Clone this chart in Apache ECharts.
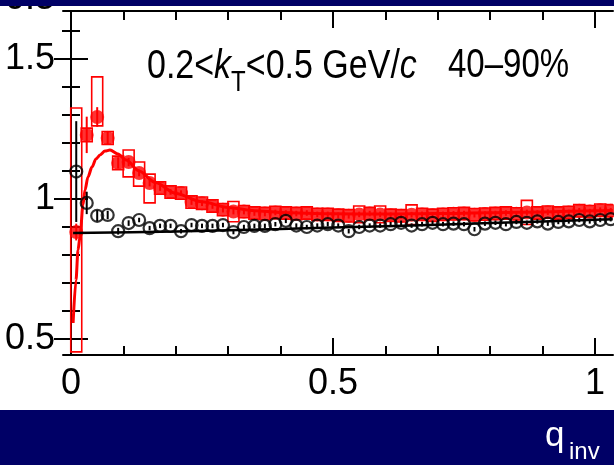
<!DOCTYPE html>
<html>
<head>
<meta charset="utf-8">
<script src="https://cdn.jsdelivr.net/npm/echarts@6/dist/echarts.min.js"></script>
<style>
html,body{margin:0;padding:0;background:#fff;}
#c{width:614px;height:465px;}
</style>
</head>
<body>
<div id="c"></div>
<script>
// ---- data ----
const qBins = [0.01,0.03,0.05,0.07,0.09,0.11,0.13,0.15,0.17,0.19,0.21,0.23,0.25,0.27,0.29,0.31,0.33,0.35,0.37,0.39,0.41,0.43,0.45,0.47,0.49,0.51,0.53,0.55,0.57,0.59,0.61,0.63,0.65,0.67,0.69,0.71,0.73,0.75,0.77,0.79,0.81,0.83,0.85,0.87,0.89,0.91,0.93,0.95,0.97,0.99,1.01,1.03];

const redY = [0.882,1.229,1.293,1.218,1.129,1.132,1.093,1.057,1.039,1.025,1.021,0.989,0.985,0.975,0.962,0.955,0.955,0.950,0.948,0.952,0.950,0.948,0.950,0.945,0.945,0.942,0.940,0.945,0.948,0.945,0.942,0.940,0.944,0.945,0.942,0.945,0.947,0.948,0.944,0.946,0.948,0.950,0.947,0.952,0.950,0.953,0.950,0.952,0.958,0.955,0.960,0.958];
const redErr = [0.03,0.065,0.035,0.025,0.02,0.015,0.012,0.012,0.01,0.01,0.01,0.01,0.01,0.01,0.01,0.01,0.01,0.01,0.01,0.01,0.01,0.01,0.01,0.01,0.01,0.01,0.01,0.01,0.01,0.01,0.01,0.01,0.01,0.01,0.01,0.01,0.01,0.01,0.01,0.01,0.01,0.01,0.01,0.01,0.01,0.01,0.01,0.01,0.01,0.01,0.01,0.01];
const redBoxLo = [0.454,1.205,1.261,1.195,1.105,1.079,1.046,0.986,1.017,1.003,0.999,0.967,0.963,0.953,0.940,0.919,0.933,0.928,0.926,0.930,0.928,0.926,0.928,0.923,0.923,0.920,0.918,0.915,0.926,0.915,0.920,0.918,0.909,0.923,0.920,0.923,0.925,0.926,0.922,0.924,0.926,0.928,0.925,0.909,0.928,0.931,0.928,0.930,0.936,0.933,0.938,0.936];
const redBoxHi = [1.325,1.253,1.436,1.241,1.153,1.175,1.132,1.089,1.061,1.047,1.043,1.011,1.007,0.997,0.984,0.991,0.977,0.972,0.970,0.974,0.972,0.970,0.972,0.967,0.967,0.964,0.962,0.975,0.970,0.975,0.964,0.962,0.979,0.967,0.964,0.967,0.969,0.970,0.966,0.968,0.970,0.972,0.969,0.995,0.972,0.975,0.972,0.974,0.980,0.977,0.982,0.980];

const blackY = [1.098,0.986,0.940,0.943,0.885,0.914,0.925,0.896,0.904,0.904,0.885,0.907,0.904,0.904,0.907,0.882,0.900,0.904,0.904,0.910,0.922,0.905,0.900,0.905,0.910,0.905,0.885,0.900,0.905,0.905,0.910,0.915,0.905,0.910,0.915,0.910,0.912,0.910,0.892,0.912,0.915,0.910,0.918,0.915,0.920,0.912,0.918,0.920,0.925,0.920,0.925,0.928];
const blackErr = [0.18,0.04,0.02,0.015,0.012,0.01,0.008,0.008,0.008,0.008,0.008,0.008,0.008,0.008,0.008,0.008,0.008,0.008,0.008,0.008,0.008,0.008,0.008,0.008,0.008,0.008,0.008,0.008,0.008,0.008,0.008,0.008,0.008,0.008,0.008,0.008,0.008,0.008,0.008,0.008,0.008,0.008,0.008,0.008,0.008,0.008,0.008,0.008,0.008,0.008,0.008,0.008];

// fit curves
const redFitX = [0.004,0.0095,0.0134,0.0172,0.0229,0.0267,0.0324,0.040,0.0477,0.0553,0.0649,0.0744,0.0897,0.105,0.13,0.16,0.20,0.25,0.30,0.35,0.40,0.50,0.60,0.70,0.80,0.90,1.00,1.034];
const redFitY = [0.557,0.710,0.818,0.864,0.979,1.032,1.079,1.114,1.143,1.157,1.171,1.175,1.161,1.139,1.100,1.060,1.020,0.990,0.970,0.958,0.952,0.947,0.946,0.948,0.951,0.954,0.958,0.959];
const blackFitX = [0.004,0.2,0.4,0.6,0.8,1.0,1.034];
const blackFitY = [0.879,0.884,0.893,0.903,0.914,0.926,0.928];

// axis ticks
const xMajor = [0,0.5,1];
const xMinor = [0.1,0.2,0.3,0.4,0.6,0.7,0.8,0.9];
const yMajor = [0.5,1,1.5];
const yMinor = [0.6,0.7,0.8,0.9,1.1,1.2,1.3,1.4,1.6];
const xMin = -0.01527, xMax = 1.0344;
const yMin = 0.4429, yMax = 1.6714;

const F = "'Liberation Sans',Arial,Helvetica,sans-serif";
const AX = {color:'#000', width:2};

function xAx(pos, vals, len, withLine, withLabel){
  return {type:'value', position:pos, min:xMin, max:xMax,
    axisLine:{show:withLine, lineStyle:AX},
    axisTick:{show:true, inside:true, length:len, customValues:vals, lineStyle:AX},
    axisLabel: withLabel ? {show:true, customValues:vals, color:'#000', fontFamily:F, fontSize:36, margin:11} : {show:false},
    splitLine:{show:false}};
}
function yAx(pos, vals, len, withLine, withLabel){
  return {type:'value', position:pos, min:yMin, max:yMax,
    axisLine:{show:withLine, lineStyle:AX},
    axisTick:{show:true, inside:true, length:len, customValues:vals, lineStyle:AX},
    axisLabel: withLabel ? {show:true, customValues:vals, color:'#000', fontFamily:F, fontSize:36, margin:8} : {show:false},
    splitLine:{show:false}};
}

function boxItem(params, api){
  const x = api.value(0), lo = api.value(1), hi = api.value(2);
  const p1 = api.coord([x-0.0105, hi]), p2 = api.coord([x+0.0105, lo]);
  return {type:'rect', shape:{x:p1[0], y:p1[1], width:p2[0]-p1[0], height:p2[1]-p1[1]},
    style:{fill:'none', stroke:'#ff0000', lineWidth:1.6}};
}
function errItem(color){
  return function(params, api){
    const x = api.value(0), y = api.value(1), e = api.value(2);
    const a = api.coord([x, y-e]), b = api.coord([x, y+e]);
    return {type:'line', shape:{x1:a[0], y1:a[1], x2:b[0], y2:b[1]}, style:{stroke:color, lineWidth:2}};
  };
}

const chart = echarts.init(document.getElementById('c'), null, {renderer:'canvas'});
chart.setOption({
  animation:false,
  backgroundColor:'#fff',
  grid:{left:63, right:1, top:11, bottom:110},
  xAxis:[xAx('bottom', xMajor, 17, true, true), xAx('bottom', xMinor, 9, false, false),
         xAx('top', xMajor, 17, true, false), xAx('top', xMinor, 9, false, false)],
  yAxis:[yAx('left', yMajor, 17, true, true), yAx('left', yMinor, 9, false, false),
         yAx('right', yMajor, 17, true, false), yAx('right', yMinor, 9, false, false)],
  series:[
    {type:'custom', name:'redSys', clip:true, renderItem:boxItem,
     data:qBins.map((x,i)=>[x, redBoxLo[i], redBoxHi[i]]), z:2},
    {type:'line', name:'redFit', data:redFitX.map((x,i)=>[x, redFitY[i]]), showSymbol:false,
     smooth:0.3, smoothMonotone:'x', lineStyle:{color:'#ff0000', width:3}, z:3},
    {type:'custom', name:'redErr', clip:true, renderItem:errItem('#ff0000'),
     data:qBins.map((x,i)=>[x, redY[i], redErr[i]]), z:4},
    {type:'scatter', name:'red', data:qBins.map((x,i)=>[x, redY[i]]), symbol:'circle', symbolSize:14,
     itemStyle:{color:'#ff0000'}, z:5},
    {type:'line', name:'blackFit', data:blackFitX.map((x,i)=>[x, blackFitY[i]]), showSymbol:false,
     smooth:0.3, lineStyle:{color:'#000', width:2.5}, z:6},
    {type:'custom', name:'blackErr', clip:true, renderItem:errItem('#000'),
     data:qBins.map((x,i)=>[x, blackY[i], blackErr[i]]), z:7},
    {type:'scatter', name:'black', data:qBins.map((x,i)=>[x, blackY[i]]), symbol:'circle', symbolSize:12,
     itemStyle:{color:'rgba(0,0,0,0)', borderColor:'#000', borderWidth:2.2}, z:8}
  ],
  graphic:[
    {type:'text', x:147, y:46, scaleY:1.22, z:50, style:{
      text:'{n|0.2<}{i|k}{s|T}{n|<0.5 GeV/}{i|c}', verticalAlign:'top', align:'left',
      rich:{
        n:{fontFamily:F, fontSize:34, lineHeight:34, verticalAlign:'top', fill:'#000'},
        i:{fontFamily:F, fontSize:34, fontStyle:'italic', lineHeight:34, verticalAlign:'top', fill:'#000'},
        s:{fontFamily:F, fontSize:24, lineHeight:60, fill:'#000'}
      }}},
    {type:'text', x:448, y:46, scaleY:1.22, z:50, style:{
      text:'{n|40–90%}', verticalAlign:'top', align:'left',
      rich:{ n:{fontFamily:F, fontSize:33, lineHeight:34, verticalAlign:'top', fill:'#000'} }}},
    {type:'text', x:55, y:-19, z:40, style:{text:'0.5', fontFamily:F, fontSize:36, fill:'#000', align:'right', verticalAlign:'top'}},
    {type:'rect', x:0, y:0, z:100, shape:{width:614, height:6}, style:{fill:'#000066'}},
    {type:'rect', x:0, y:410, z:100, shape:{width:614, height:55}, style:{fill:'#000066'}},
    {type:'text', x:545, y:419, z:110, style:{
      text:'{q|q}', verticalAlign:'top', align:'left',
      rich:{ q:{fontFamily:F, fontSize:35, lineHeight:40, verticalAlign:'top', fill:'#fff'} }}},
    {type:'text', x:569, y:410, z:110, style:{
      text:'{s|inv}', verticalAlign:'top', align:'left',
      rich:{ s:{fontFamily:F, fontSize:24, lineHeight:84, fill:'#fff'} }}}
  ]
});
</script>
</body>
</html>
